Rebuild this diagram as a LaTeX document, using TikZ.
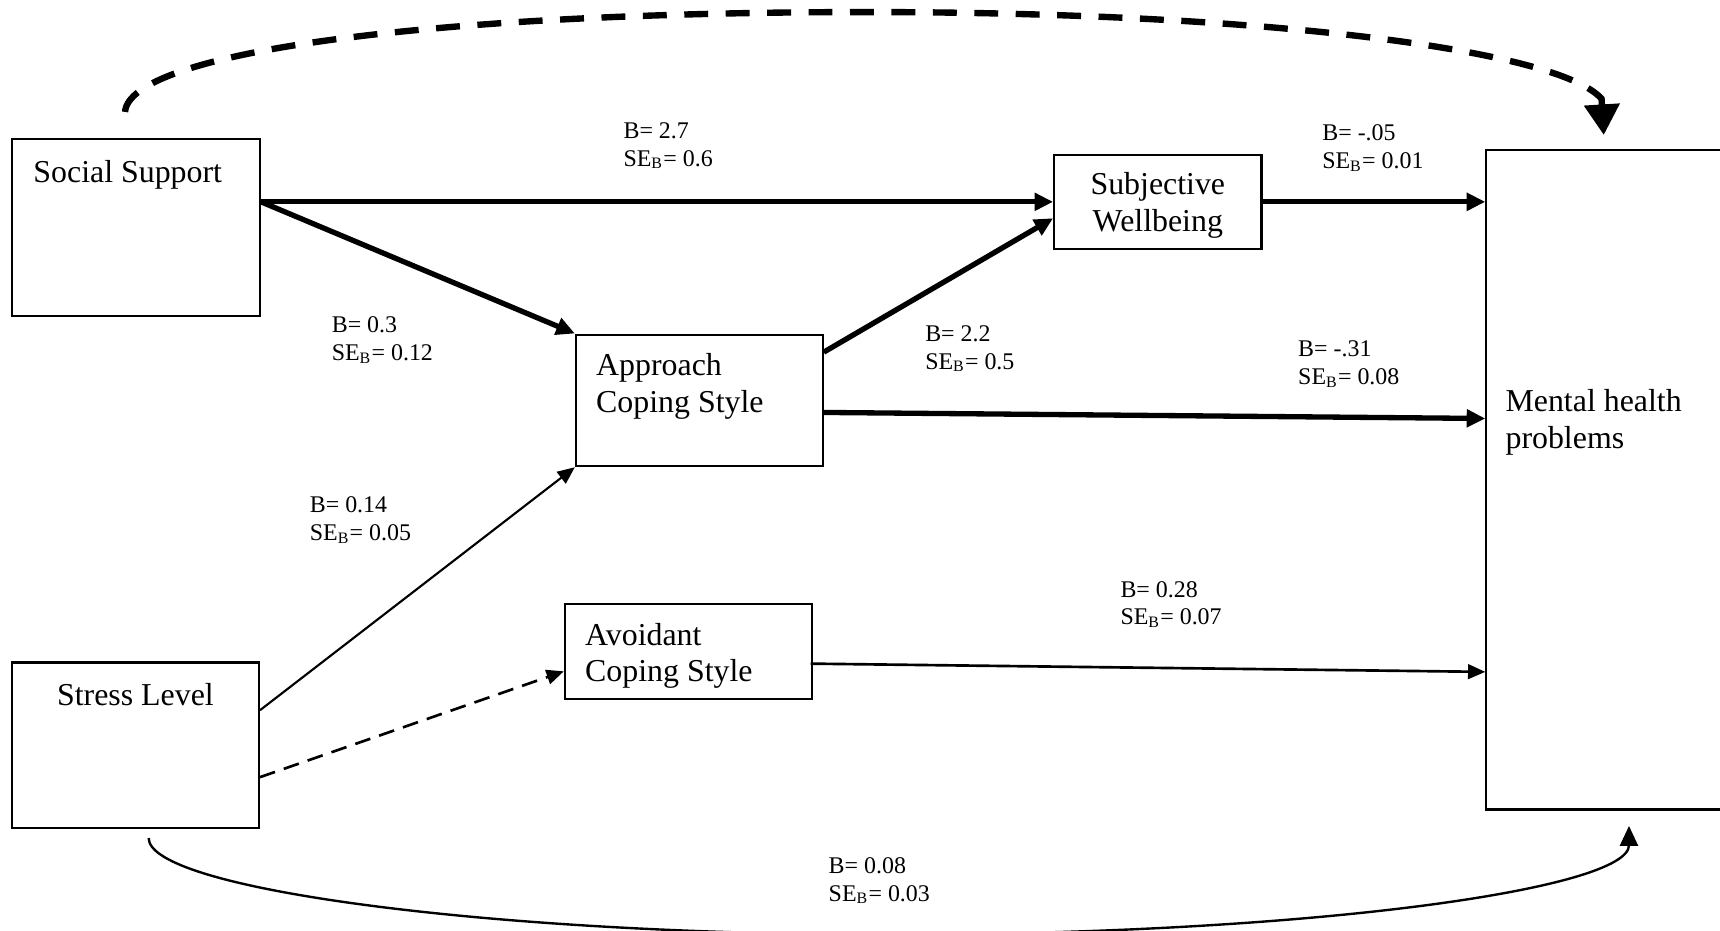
\documentclass[tikz,border=0pt]{standalone}
\usepackage{fontspec}
\setmainfont{Liberation Serif}
\usetikzlibrary{arrows.meta, calc}

\newlength{\unitpx}
\setlength{\unitpx}{0.413pt}
\newcommand{\pathcoef}[2]{B= #1\\SE\textsubscript{B}= #2}

\begin{document}
\begin{tikzpicture}[x=\unitpx, y=-\unitpx,
    box/.style={draw, line width=0.8pt, inner sep=0pt},
    boxtext/.style={font=\fontsize{12}{13.8}\selectfont, inner sep=0pt, align=left},
    coef/.style={font=\fontsize{9}{10.4}\selectfont, inner sep=0pt, align=left, anchor=west},
    strong/.style={line width=2pt, -{Triangle[length=7pt,width=6.5pt]}},
    weak/.style={line width=0.8pt, -{Triangle[length=6.5pt,width=5.5pt]}}]
    \clip (0,0) rectangle (1568,848);

    % variables
    \node[box, minimum width=226\unitpx, minimum height=161\unitpx] (ss) at (124,207.5) {};
    \node[box, minimum width=225\unitpx, minimum height=151\unitpx] (sl) at (123.5,679.5) {};
    \node[box, minimum width=189\unitpx, minimum height=86\unitpx] (sw) at (1055.5,184) {};
    \node[box, minimum width=225\unitpx, minimum height=120\unitpx] (ap) at (637.5,365) {};
    \node[box, minimum width=225\unitpx, minimum height=86\unitpx] (av) at (627.5,594) {};
    \node[box, minimum width=245\unitpx, minimum height=601\unitpx] (mhp) at (1477.5,437.5) {};

    % box texts
    \node[boxtext, anchor=west] (ssText) at ($(ss.north west)+(20,33)$) {Social Support};
    \node[boxtext] (slText) at ($(sl.north)+(0,30)$) {Stress Level};
    \node[boxtext, align=center] (swText) at ($(sw.center)+(0,3)$) {Subjective\\Wellbeing};
    \node[boxtext, anchor=west] (apText) at ($(ap.north west)+(19,48)$) {Approach\\Coping Style};
    \node[boxtext, anchor=west] (avText) at ($(av.west)+(19,4)$) {Avoidant\\Coping Style};
    \node[boxtext, anchor=west] (mhpText) at ($(mhp.north west)+(18,249)$) {Mental health\\problems};

    % paths
    \draw[strong] (ss.east |- sw.west) -- (sw.west);
    \draw[strong] (ss.east |- sw.west) -- (ap.north west);
    \draw[strong] ($(ap.north east)+(0,17)$) -- ($(sw.south west)+(0,-29)$);
    \draw[strong] (sw.east) -- (mhp.west |- sw.east);
    \draw[strong] ($(ap.east)+(0,11)$) -- ($(mhp.west)+(0,-56)$);
    \draw[weak] ($(sl.east)+(0,-32)$) -- (ap.south west);
    \draw[weak, line width=1pt, dash pattern=on 6pt off 3.5pt] ($(sl.east)+(0,29)$) -- ($(av.west)+(0,18)$);
    \draw[weak, line width=1pt] ($(av.east)+(-2,11)$) -- ($(mhp.west)+(0,175)$);

    % curved paths
    \coordinate (ssTop) at ($(ss.north)+(-10,-24)$);
    \coordinate (mhpTop) at ($(mhp.north west)+(108,-13)$);
    \draw[line width=2.4pt, dash pattern=on 9pt off 6.6pt, -{Triangle[length=11.5pt,width=13pt]}]
        (ssTop) .. controls +(4,-53) and (380,11) .. (790,11)
        .. controls (1150,11) and (1420,45) .. (1460,90) -- (mhpTop);
    \coordinate (slFoot) at ($(sl.south)+(12,8)$);
    \coordinate (mhpFoot) at ($(mhp.south west)+(131,14)$);
    \draw[line width=0.9pt, -{Triangle[length=7.5pt,width=6.8pt]}]
        (slFoot) .. controls +(0,47) and (450,852) .. (810,852)
        .. controls (1200,852) and (1485,810) .. (mhpFoot);

    % coefficients
    \node[coef] (c27) at (568,133) {\pathcoef{2.7}{0.6}};
    \node[coef] (c03) at (302,310) {\pathcoef{0.3}{0.12}};
    \node[coef] (c22) at (843,318) {\pathcoef{2.2}{0.5}};
    \node[coef] (c05) at (1205,135) {\pathcoef{-.05}{0.01}};
    \node[coef] (c31) at (1183,332) {\pathcoef{-.31}{0.08}};
    \node[coef] (c14) at (282,474) {\pathcoef{0.14}{0.05}};
    \node[coef] (c28) at (1021,551) {\pathcoef{0.28}{0.07}};
    \node[coef] (c08) at (755,803) {\pathcoef{0.08}{0.03}};
\end{tikzpicture}
\end{document}
